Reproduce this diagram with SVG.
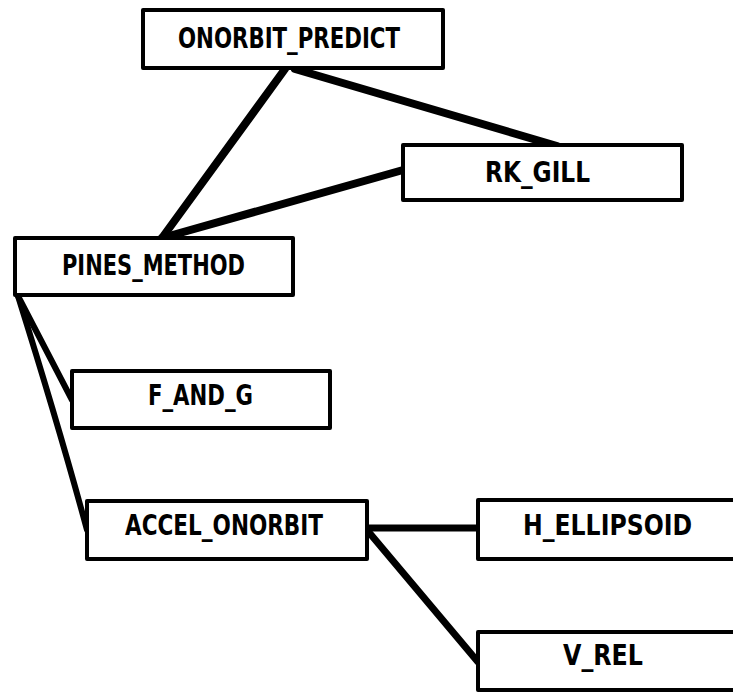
<svg xmlns="http://www.w3.org/2000/svg" width="733" height="693" viewBox="0 0 733 693">
<style>
.box{fill:#fff;stroke:#000;stroke-width:4;stroke-linejoin:round}
.lbl{font-family:"DejaVu Sans Condensed","DejaVu Sans",sans-serif;font-weight:bold;font-size:29px;fill:#000}
.c{fill:none;stroke:#000;stroke-linecap:round;stroke-linejoin:round}
</style>
<rect width="733" height="693" fill="#fff"/>
<g id="connectors">
<line class="c" x1="285" y1="69" x2="162" y2="238" stroke-width="8"/>
<line class="c" x1="295" y1="69" x2="557" y2="146" stroke-width="8"/>
<line class="c" x1="162" y1="238" x2="403" y2="170" stroke-width="8"/>
<line class="c" x1="18" y1="296" x2="72" y2="400" stroke-width="6"/>
<path class="c" d="M18 296 Q60 430 87 530" stroke-width="6"/>
<line class="c" x1="367" y1="528" x2="478" y2="528" stroke-width="7"/>
<line class="c" x1="367" y1="530" x2="478" y2="662" stroke-width="7"/>
</g>
<g id="onorbit_predict">
<rect class="box" x="143" y="10" width="300" height="58"/>
<text class="lbl" x="178" y="48" textLength="222" lengthAdjust="spacingAndGlyphs">ONORBIT_PREDICT</text>
</g>
<g id="rk_gill">
<rect class="box" x="403" y="145" width="279" height="55"/>
<text class="lbl" x="485" y="182" textLength="105" lengthAdjust="spacingAndGlyphs">RK_GILL</text>
</g>
<g id="pines_method">
<rect class="box" x="15" y="238" width="278" height="57"/>
<text class="lbl" x="62" y="275" textLength="183" lengthAdjust="spacingAndGlyphs">PINES_METHOD</text>
</g>
<g id="f_and_g">
<rect class="box" x="72" y="371" width="258" height="57"/>
<text class="lbl" x="148" y="405" textLength="105" lengthAdjust="spacingAndGlyphs">F_AND_G</text>
</g>
<g id="accel_onorbit">
<rect class="box" x="87" y="501" width="280" height="58"/>
<text class="lbl" x="125" y="535" textLength="198" lengthAdjust="spacingAndGlyphs">ACCEL_ONORBIT</text>
</g>
<g id="h_ellipsoid">
<rect class="box" x="478" y="500" width="262" height="59"/>
<text class="lbl" x="523" y="535" textLength="169" lengthAdjust="spacingAndGlyphs">H_ELLIPSOID</text>
</g>
<g id="v_rel">
<rect class="box" x="478" y="632" width="262" height="58"/>
<text class="lbl" x="563" y="665" textLength="80" lengthAdjust="spacingAndGlyphs">V_REL</text>
</g>
</svg>
